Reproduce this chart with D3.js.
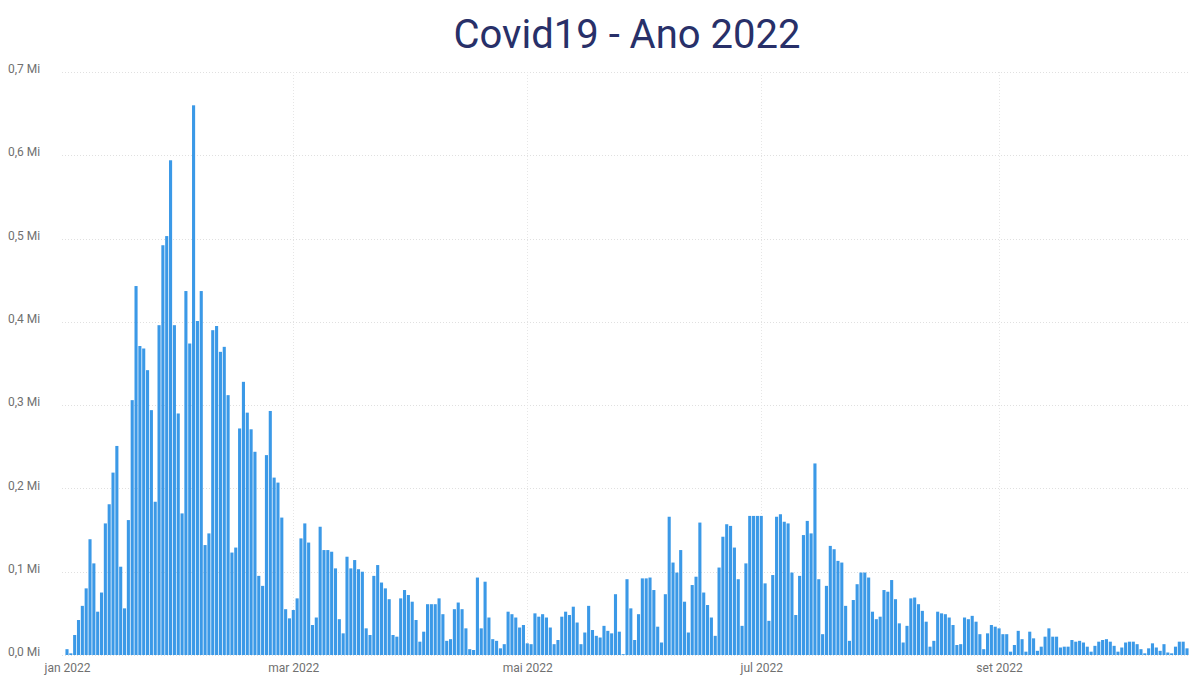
<!DOCTYPE html>
<html>
<head>
<meta charset="utf-8">
<script src="https://cdn.jsdelivr.net/npm/d3@7"></script>
<style>
  html, body { margin: 0; padding: 0; background: #fff; }
  svg { display: block; }
</style>
</head>
<body>
<svg id="chart" width="1190" height="677"></svg>
<script>
// Daily new cases (millions), 2022
const jan = [0.007, 0.002, 0.024, 0.042, 0.059, 0.080, 0.139, 0.110, 0.052, 0.075, 0.158, 0.181, 0.219, 0.251, 0.106, 0.056, 0.162, 0.306, 0.443, 0.371, 0.368, 0.342, 0.294, 0.184, 0.396, 0.492, 0.503, 0.594, 0.396, 0.290, 0.170];
const feb = [0.437, 0.374, 0.660, 0.401, 0.437, 0.132, 0.146, 0.390, 0.395, 0.364, 0.370, 0.312, 0.123, 0.129, 0.272, 0.328, 0.291, 0.271, 0.244, 0.095, 0.083, 0.240, 0.293, 0.213, 0.207, 0.165, 0.055, 0.044];
const mar = [0.054, 0.068, 0.140, 0.158, 0.135, 0.036, 0.045, 0.154, 0.126, 0.126, 0.124, 0.104, 0.043, 0.026, 0.118, 0.104, 0.114, 0.103, 0.100, 0.032, 0.024, 0.095, 0.108, 0.087, 0.080, 0.067, 0.024, 0.022, 0.068, 0.078, 0.072];
const apr = [0.064, 0.042, 0.016, 0.028, 0.061, 0.061, 0.061, 0.068, 0.049, 0.017, 0.019, 0.055, 0.063, 0.055, 0.032, 0.007, 0.006, 0.093, 0.032, 0.088, 0.045, 0.019, 0.017, 0.008, 0.013, 0.052, 0.049, 0.045, 0.033, 0.036];
const may = [0.014, 0.013, 0.050, 0.046, 0.049, 0.045, 0.033, 0.013, 0.018, 0.046, 0.052, 0.048, 0.058, 0.039, 0.013, 0.027, 0.059, 0.030, 0.023, 0.021, 0.035, 0.029, 0.026, 0.073, 0.028, 0.001, 0.091, 0.056, 0.018, 0.049, 0.092];
const jun = [0.092, 0.093, 0.078, 0.034, 0.015, 0.073, 0.166, 0.111, 0.099, 0.126, 0.064, 0.027, 0.084, 0.094, 0.159, 0.075, 0.060, 0.045, 0.023, 0.105, 0.142, 0.157, 0.155, 0.129, 0.091, 0.035, 0.110, 0.167, 0.167, 0.167];
const jul = [0.167, 0.086, 0.041, 0.096, 0.166, 0.169, 0.160, 0.158, 0.099, 0.048, 0.095, 0.144, 0.161, 0.146, 0.230, 0.091, 0.025, 0.083, 0.131, 0.127, 0.113, 0.111, 0.059, 0.017, 0.066, 0.085, 0.099, 0.099, 0.093, 0.052, 0.043];
const aug = [0.046, 0.078, 0.076, 0.090, 0.067, 0.038, 0.015, 0.035, 0.068, 0.069, 0.061, 0.053, 0.040, 0.010, 0.017, 0.052, 0.050, 0.049, 0.045, 0.036, 0.012, 0.013, 0.045, 0.043, 0.047, 0.040, 0.025, 0.007, 0.026, 0.036, 0.034];
const sep = [0.032, 0.025, 0.025, 0.004, 0.012, 0.029, 0.019, 0.004, 0.028, 0.020, 0.005, 0.010, 0.022, 0.032, 0.022, 0.022, 0.009, 0.010, 0.010, 0.018, 0.016, 0.017, 0.015, 0.010, 0.004, 0.011, 0.016, 0.018, 0.019, 0.016];
const oct = [0.011, 0.004, 0.009, 0.015, 0.016, 0.016, 0.013, 0.007, 0.002, 0.008, 0.014, 0.009, 0.005, 0.013, 0.003, 0.002, 0.010, 0.016, 0.016, 0.008];

const months = [jan, feb, mar, apr, may, jun, jul, aug, sep, oct];
const yTicks = [0, 0.1, 0.2, 0.3, 0.4, 0.5, 0.6, 0.7];
const xTickLabels = ["jan 2022", "mar 2022", "mai 2022", "jul 2022", "set 2022"];
const xTickDates = [new Date(2022, 0, 1), new Date(2022, 2, 1), new Date(2022, 4, 1), new Date(2022, 6, 1), new Date(2022, 8, 1)];
const title = "Covid19 - Ano 2022";

const data = [];
months.forEach((vals, m) => vals.forEach((v, i) => data.push({ date: new Date(2022, m, i + 1), value: v })));

const svg = d3.select("#chart");
const x = d3.scaleTime()
  .domain([new Date(2022, 0, 1), new Date(2022, 9, 20)])
  .range([67, 1187]);
const y = d3.scaleLinear().domain([0, 0.7]).range([655, 72]);

// gridlines
svg.append("g").selectAll("line").data(yTicks).join("line")
  .attr("x1", 62).attr("x2", 1190)
  .attr("y1", d => Math.round(y(d)) + 0.5).attr("y2", d => Math.round(y(d)) + 0.5)
  .attr("stroke", "#e0e0e0").attr("stroke-width", 1).attr("stroke-dasharray", "1,2");
svg.append("g").selectAll("line").data(xTickDates.slice(1)).join("line")
  .attr("x1", d => Math.round(x(d)) + 0.5).attr("x2", d => Math.round(x(d)) + 0.5)
  .attr("y1", 72).attr("y2", 655)
  .attr("stroke", "#e6e6e6").attr("stroke-width", 1).attr("stroke-dasharray", "1,2");

// bars
const bw = 3.1;
svg.append("g").selectAll("rect").data(data).join("rect")
  .attr("x", d => x(d.date) - bw / 2)
  .attr("width", bw)
  .attr("y", d => y(d.value))
  .attr("height", d => y(0) - y(d.value))
  .attr("fill", "#3b99e7");

// y axis labels
const fmt = v => d3.format(".1f")(v).replace(".", ",") + " Mi";
svg.append("g").selectAll("text").data(yTicks).join("text")
  .attr("x", 8).attr("y", d => y(d))
  .attr("dy", "0.1em")
  .attr("font-family", "'Liberation Sans Narrow', 'Roboto', sans-serif")
  .attr("font-size", 12).attr("fill", "#707070")
  .text(fmt);

// x axis
const xAxis = d3.axisBottom(x)
  .tickValues(xTickDates)
  .tickFormat((d, i) => xTickLabels[i])
  .tickSize(0).tickPadding(8);
const gx = svg.append("g").attr("transform", "translate(0,655)").call(xAxis);
gx.select(".domain").remove();
gx.selectAll("text")
  .attr("font-family", "'Liberation Sans Narrow', 'Roboto', sans-serif")
  .attr("font-size", 12).attr("fill", "#707070");

// title
svg.append("text")
  .attr("x", 627).attr("y", 48)
  .attr("text-anchor", "middle")
  .attr("font-family", "Roboto, sans-serif")
  .attr("font-size", 40).attr("fill", "#283069")
  .text(title);
</script>
</body>
</html>
